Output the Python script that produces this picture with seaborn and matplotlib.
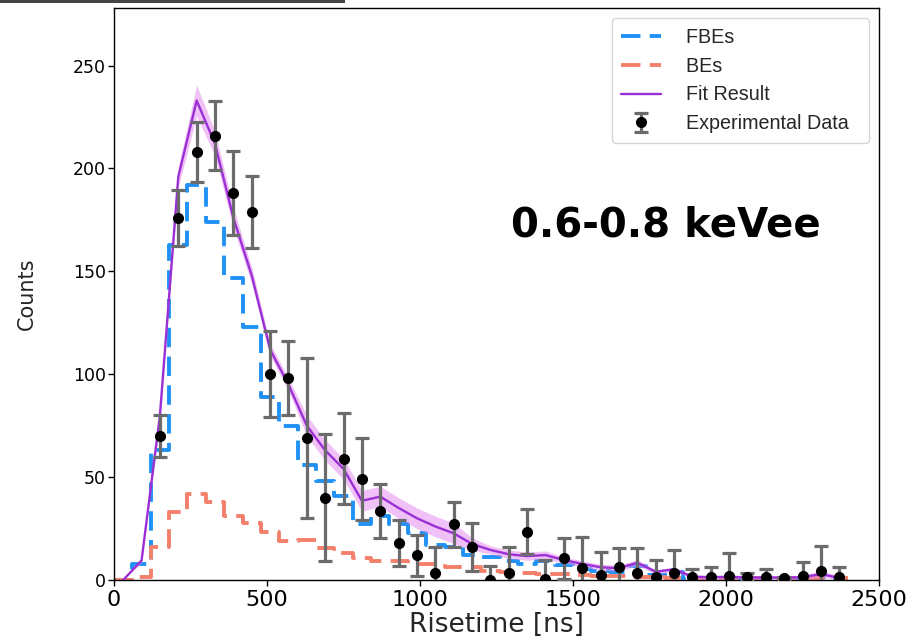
import matplotlib
matplotlib.use('Agg')
import matplotlib.pyplot as plt
import seaborn as sns
import numpy as np
from matplotlib.lines import Line2D
from matplotlib.patches import Rectangle

# ---------------- data ----------------
bin_edges = list(range(0, 2401, 60))          # 60 ns bins, 0 .. 2400
fbe_counts = [0, 8, 63, 163, 192, 174, 147, 123, 89, 75,
              56, 48, 41, 27, 31, 27, 23, 17, 16, 12,
              11, 9, 8, 9, 7.2, 5.3, 4.2, 3.7, 6.9, 2.5,
              4, 0.6, 0.3, 0.5, 0.2, 0.2, 0.2, 0.3, 1.5, 0.3]
be_counts = [0, 1.3, 16, 33, 42, 38, 31, 27.5, 23.5, 19,
             19.5, 15.5, 13, 10.5, 9, 9, 8, 8, 6.5, 6.5,
             4.5, 4, 3.5, 3, 3, 2.5, 2, 2, 1.5, 1.5,
             1.2, 1, 1, 1, 1, 1, 1, 1, 1, 1]
bin_centers = [e + 30 for e in bin_edges[:-1]]

fit_values = [0, 9.5, 80, 196, 233, 212, 176, 148, 112, 95,
              75, 63, 54, 38.5, 40.5, 35, 30, 26, 22.7, 17.5,
              14.6, 12.5, 11.6, 12.1, 9.7, 7.8, 6.2, 5.7, 8.4, 4,
              5.2, 1.6, 1.3, 1.5, 1.2, 1.2, 1.2, 1.3, 2.9, 1]
fit_band = [0, 1, 3, 5, 7.5, 6, 5, 4, 3, 3,
            5, 5, 5, 5, 5, 5, 5, 5, 5, 3,
            2, 2, 2, 2, 1.5, 1.5, 1.5, 1.5, 1.5, 1,
            1, 1, 1, 1, 1, 1, 1, 1, 1.5, 1]

data_x = list(range(150, 2371, 60))
data_counts = [70, 176, 208, 216, 188, 179, 100, 98, 69, 40,
               59, 49, 33.5, 18, 12, 3.6, 27, 16, 0, 3.5,
               23.5, 0.5, 10.5, 5.7, 2.4, 6.5, 3.6, 1.3, 3.2, 1.3,
               1.3, 2.1, 1.3, 1.3, 0.8, 1.9, 4.5, 1.3]
data_err = [10, 13.5, 14.7, 16.6, 20.5, 17.5, 21, 18, 39, 31,
            22, 20, 13, 11, 10, 12.5, 11, 11.5, 7, 12.7,
            11, 9, 10, 15, 11, 9, 12, 8.5, 11.4, 4,
            5, 11, 2, 4, 0.5, 7, 12, 5]

x_ticks = [0, 500, 1000, 1500, 2000, 2500]
y_ticks = [0, 50, 100, 150, 200, 250]
legend_labels = ["FBEs", "BEs", "Fit Result", "Experimental Data"]
annotation = "0.6-0.8 keVee"

# ---------------- style ----------------
sns.set_style('ticks')
plt.rcParams['font.family'] = ['DejaVu Sans']

c_fbe = '#2092f5'
c_be = '#f4806c'
c_fit = '#9b2fd6'
c_band = '#e58ef0'
c_err = '#6b6b6b'

fig = plt.figure(figsize=(9.13, 6.44), dpi=100)
ax = fig.add_axes([0.1249, 0.0994, 0.8379, 0.8882])

dash = (0, (5, 2.4))
sns.histplot(x=bin_centers, weights=fbe_counts, bins=bin_edges, element='step',
             fill=False, color=c_fbe, linestyle=dash, linewidth=2.8, ax=ax)
sns.histplot(x=bin_centers, weights=be_counts, bins=bin_edges, element='step',
             fill=False, color=c_be, linestyle=dash, linewidth=2.8, ax=ax)

fx = np.array(bin_centers, dtype=float)
fy = np.array(fit_values, dtype=float)
fb = np.array(fit_band, dtype=float)
ax.fill_between(fx, fy - fb, fy + fb, color=c_band, alpha=0.55, linewidth=0, zorder=2)
sns.lineplot(x=fx, y=fy, color=c_fit, linewidth=1.7, ax=ax, zorder=3)

eb = ax.errorbar(data_x, data_counts, yerr=data_err, fmt='o', color='black',
                 markersize=7, ecolor=c_err, elinewidth=2.3, capsize=5,
                 capthick=2.3, zorder=5)

ax.set_xlim(0, 2500)
ax.set_ylim(0, 278)
ax.set_xticks(x_ticks)
ax.set_yticks(y_ticks)
ax.tick_params(axis='x', labelsize=16, length=4, width=1, colors='black')
ax.tick_params(axis='y', labelsize=12.5, length=4, width=1, colors='black', pad=2)
for s in ax.spines.values():
    s.set_color('black')
    s.set_linewidth(1.0)
ax.set_xlabel("Risetime [ns]", fontsize=19, labelpad=1)
ax.set_ylabel("Counts", fontsize=15, labelpad=26)

handles = [
    Line2D([], [], color=c_fbe, linestyle=dash, linewidth=2.8),
    Line2D([], [], color=c_be, linestyle=dash, linewidth=2.8),
    Line2D([], [], color=c_fit, linewidth=1.7),
    eb,
]
leg = ax.legend(handles, [l + "  " for l in legend_labels], loc='upper right',
                frameon=True, prop={'family': 'Liberation Sans', 'size': 14.2},
                handletextpad=1.25, handlelength=2.0, labelspacing=0.5,
                borderpad=0.5, borderaxespad=0.5)
leg.get_frame().set_edgecolor('#cccccc')

ax.text(0.7216, 0.6206, annotation, transform=ax.transAxes, ha='center',
        va='center', fontsize=29, fontweight='bold', color='black')

fig.add_artist(Rectangle((0, 1 - 3 / 644), 345 / 913, 3 / 644,
                         transform=fig.transFigure, color='#444444', lw=0))

fig.savefig('out.png', dpi=100)
